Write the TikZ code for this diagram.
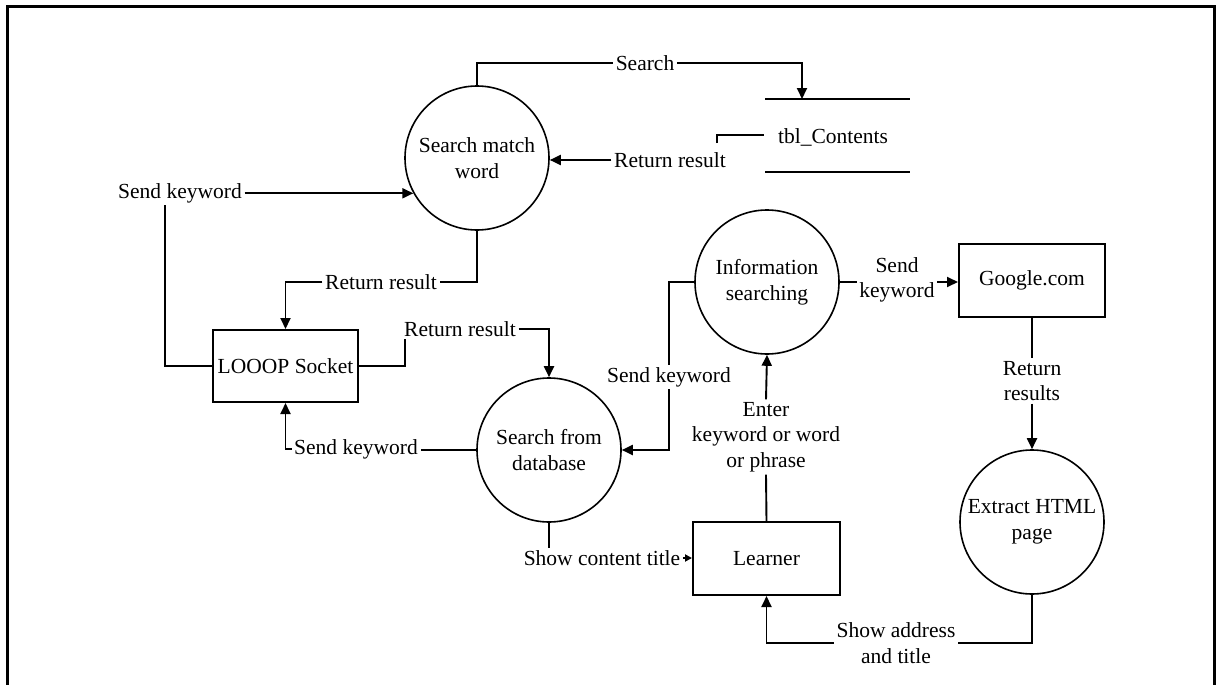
\documentclass[tikz,border=0pt]{standalone}
\usepackage{fontspec}
\setmainfont{Liberation Serif}
\usetikzlibrary{arrows.meta}
\begin{document}
\begin{tikzpicture}[x=1pt,y=-1pt,
  every node/.style={font=\fontsize{21.5}{25.5}\selectfont},
  line/.style={line width=1.9pt},
  flow/.style={line, -{Triangle[length=11pt,width=10pt]}},
  proc/.style={circle, draw, line width=1.6pt, minimum size=144pt, inner sep=0pt, align=center},
  ent/.style={rectangle, draw, line width=2pt, inner sep=0pt, align=center},
  lbl/.style={inner sep=2.5pt, align=center}]
\useasboundingbox (0,0) rectangle (1221,685);
% frame
\draw[line width=3pt] (7,690) -- (7,7) -- (1214,7) -- (1214,690);

% processes
\node[proc] (smw) at (477,158) {Search match\\word};
\node[proc] (sfd) at (549,450) {Search from\\database};
\node[proc] (info) at (767,282) {Information\\searching};
\node[proc] (ext) at (1032,522) {Extract HTML\\page};

% entities
\node[ent, minimum width=145pt, minimum height=72pt] (sock) at (285.5,366) {LOOOP Socket};
\node[ent, minimum width=146pt, minimum height=73pt] (goog) at (1032,280.5) {Google.com};
\node[ent, minimum width=147pt, minimum height=73pt] (learn) at (766.5,558.5) {Learner};

% data store
\coordinate (dsTL) at (765,99);
\coordinate (dsTR) at (910,99);
\coordinate (dsBL) at (765,172);
\coordinate (dsBR) at (910,172);
\coordinate (dsIn) at (802,99);
\coordinate (stubA) at (717,143);
\coordinate (stubB) at (717,135);
\coordinate (stubC) at (764,135);
\draw[line] (dsTL) -- (dsTR);
\draw[line] (dsBL) -- (dsBR);
\draw[line] (stubA) -- (stubB) -- (stubC);
\node[lbl] (tbl) at (833,137) {tbl\_Contents};

% labels
\node[lbl] (lbSearch) at (645,63) {Search};
\node[lbl] (lbRet1) at (670,160) {Return result};
\node[lbl] (lbSend1) at (180,193) {Send keyword};
\node[lbl] (lbRet2) at (381,282) {Return result};
\node[lbl] (lbRet3) at (460,329) {Return result};
\node[lbl] (lbSend2) at (356,449) {Send keyword};
\node[lbl] (lbSend3) at (669,377) {Send keyword};
\node[lbl] (lbSend4) at (897,280) {Send\\keyword};
\node[lbl] (lbRetRes) at (1032,381) {Return\\results};
\node[lbl] (lbEnter) at (766,437) {Enter\\keyword or word\\or phrase};
\node[lbl] (lbShowAddr) at (896,643) {Show address\\and title};
\node[lbl] (lbShowCont) at (602,558) {Show content title};

\coordinate (cA) at (165,0);
\coordinate (cB) at (405,0);

% connectors
\draw[line] (smw.north) |- (lbSearch.west);
\draw[flow] (lbSearch.east) -| (dsIn);
\draw[flow] (lbRet1.west) -- (smw.east |- lbRet1.west);
\draw[line] (sock.west) -| (cA |- lbSend1.south);
\draw[flow] (lbSend1.east |- smw.209) -- (smw.209);
\draw[line] (smw.south) |- (lbRet2.east);
\draw[flow] (lbRet2.west) -| (sock.north);
\draw[line] (sock.east) -| (cB |- lbRet3.south);
\draw[flow] (lbRet3.east) -| (sfd.north);
\draw[line] (sfd.west) -- (lbSend2.east |- sfd.west);
\draw[flow] (lbSend2.west) -| (sock.south);
\draw[line] (info.west) -| (lbSend3.north);
\draw[flow] (lbSend3.south) |- (sfd.east);
\draw[line] (info.east) -- (lbSend4.west |- info.east);
\draw[flow] (lbSend4.east |- info.east) -- (goog.west |- info.east);
\draw[line] (goog.south) -- (lbRetRes.north);
\draw[flow] (lbRetRes.south) -- (ext.north);
\draw[line] (ext.south) |- (lbShowAddr.east);
\draw[flow] (lbShowAddr.west) -| (learn.south);
\draw[line] (learn.north) -- (lbEnter.south);
\draw[flow] (lbEnter.north) -- (info.south);
\draw[line] (sfd.south) -- (sfd.south |- lbShowCont.north);
\draw[line, -{Triangle[length=7pt,width=7pt]}] (lbShowCont.east) -- (learn.west |- lbShowCont.east);
\end{tikzpicture}
\end{document}
